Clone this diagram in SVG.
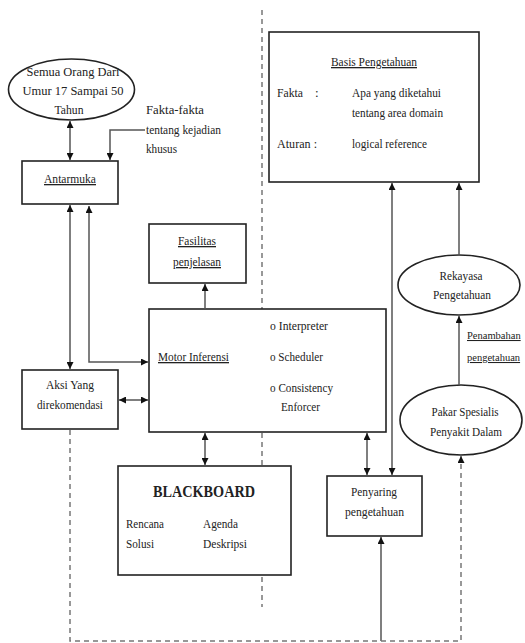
<svg xmlns="http://www.w3.org/2000/svg" width="525" height="643" viewBox="0 0 525 643">
<defs>
<marker id="ah" viewBox="0 0 10 10" refX="10" refY="5" markerWidth="7" markerHeight="7" markerUnits="userSpaceOnUse" orient="auto-start-reverse">
<path d="M0,0 L10,5 L0,10 z" fill="#111"/>
</marker>
<style>
.box{fill:#fff;stroke:#222;stroke-width:1.6}
.t{font-family:"Liberation Serif","Times New Roman",serif;font-size:13px;fill:#222}
.c{text-anchor:middle}
.u{text-decoration:underline}
.ln{fill:none;stroke:#555;stroke-width:1.5}
.both{marker-start:url(#ah);marker-end:url(#ah)}
.end{marker-end:url(#ah)}
.dash{fill:none;stroke:#777;stroke-width:1.5;stroke-dasharray:5 4}
</style>
</defs>
<rect width="525" height="643" fill="#fff"/>

<g id="divider">
<line class="dash" x1="262" y1="10" x2="262" y2="607"/>
</g>

<g id="semua">
<ellipse class="box" cx="71.5" cy="89.5" rx="63" ry="30.5"/>
<text class="t c" x="73" y="76" textLength="93" lengthAdjust="spacingAndGlyphs">Semua Orang Dari</text>
<text class="t c" x="73" y="95" textLength="101" lengthAdjust="spacingAndGlyphs">Umur 17 Sampai 50</text>
<text class="t c" x="69" y="114" textLength="29" lengthAdjust="spacingAndGlyphs">Tahun</text>
</g>

<g id="fakta">
<text class="t" x="146" y="114" textLength="58" lengthAdjust="spacingAndGlyphs">Fakta-fakta</text>
<text class="t" x="146" y="134" textLength="75" lengthAdjust="spacingAndGlyphs">tentang kejadian</text>
<text class="t" x="146" y="153" textLength="31" lengthAdjust="spacingAndGlyphs">khusus</text>
</g>

<g id="antarmuka">
<rect class="box" x="22" y="161" width="96" height="43"/>
<text class="t c u" x="70" y="183" textLength="52" lengthAdjust="spacingAndGlyphs">Antarmuka</text>
</g>

<g id="basis">
<rect class="box" x="269" y="32" width="210" height="150"/>
<text class="t c u" x="374" y="66" textLength="86" lengthAdjust="spacingAndGlyphs">Basis Pengetahuan</text>
<text class="t" x="277" y="97" textLength="26" lengthAdjust="spacingAndGlyphs">Fakta</text>
<text class="t" x="315" y="97">:</text>
<text class="t" x="352" y="97" textLength="89" lengthAdjust="spacingAndGlyphs">Apa yang diketahui</text>
<text class="t" x="352" y="117" textLength="91" lengthAdjust="spacingAndGlyphs">tentang area domain</text>
<text class="t" x="277" y="148" textLength="40" lengthAdjust="spacingAndGlyphs">Aturan :</text>
<text class="t" x="352" y="148" textLength="75" lengthAdjust="spacingAndGlyphs">logical reference</text>
</g>

<g id="fasilitas">
<rect class="box" x="149" y="224" width="97" height="59"/>
<text class="t c u" x="197" y="245" textLength="38" lengthAdjust="spacingAndGlyphs">Fasilitas</text>
<text class="t c u" x="197" y="266" textLength="48" lengthAdjust="spacingAndGlyphs">penjelasan</text>
</g>

<g id="rekayasa">
<ellipse class="box" cx="459" cy="285" rx="61" ry="30"/>
<text class="t c" x="461" y="280" textLength="43" lengthAdjust="spacingAndGlyphs">Rekayasa</text>
<text class="t c" x="462" y="299" textLength="58" lengthAdjust="spacingAndGlyphs">Pengetahuan</text>
</g>

<g id="penambahan">
<text class="t u" x="467" y="339" style="font-size:10.5px">Penambahan</text>
<text class="t u" x="467" y="361" style="font-size:10.5px">pengetahuan</text>
</g>

<g id="motor">
<rect class="box" x="149" y="309" width="237" height="123"/>
<text class="t u" x="158" y="361" textLength="71" lengthAdjust="spacingAndGlyphs">Motor Inferensi</text>
<text class="t" x="270" y="330" textLength="58" lengthAdjust="spacingAndGlyphs">o  Interpreter</text>
<text class="t" x="270" y="361" textLength="53" lengthAdjust="spacingAndGlyphs">o Scheduler</text>
<text class="t" x="270" y="392" textLength="63" lengthAdjust="spacingAndGlyphs">o Consistency</text>
<text class="t" x="281" y="411" textLength="39" lengthAdjust="spacingAndGlyphs">Enforcer</text>
</g>

<g id="aksi">
<rect class="box" x="22" y="370" width="96" height="59"/>
<text class="t c" x="70" y="389" textLength="48" lengthAdjust="spacingAndGlyphs">Aksi Yang</text>
<text class="t c" x="70" y="409" textLength="66" lengthAdjust="spacingAndGlyphs">direkomendasi</text>
</g>

<g id="pakar">
<ellipse class="box" cx="461" cy="420" rx="61" ry="35"/>
<text class="t c" x="465" y="416" textLength="67" lengthAdjust="spacingAndGlyphs">Pakar Spesialis</text>
<text class="t c" x="466" y="436" textLength="72" lengthAdjust="spacingAndGlyphs">Penyakit Dalam</text>
</g>

<g id="blackboard">
<rect class="box" x="118" y="466" width="173" height="109"/>
<text class="t c" x="204" y="497" style="font-size:16px;font-weight:bold" textLength="102" lengthAdjust="spacingAndGlyphs">BLACKBOARD</text>
<text class="t" x="126" y="528" textLength="38" lengthAdjust="spacingAndGlyphs">Rencana</text>
<text class="t" x="126" y="548" textLength="28" lengthAdjust="spacingAndGlyphs">Solusi</text>
<text class="t" x="203" y="528" textLength="35" lengthAdjust="spacingAndGlyphs">Agenda</text>
<text class="t" x="203" y="548" textLength="44" lengthAdjust="spacingAndGlyphs">Deskripsi</text>
</g>

<g id="penyaring">
<rect class="box" x="327" y="476" width="95" height="60"/>
<text class="t c" x="374" y="496" textLength="46" lengthAdjust="spacingAndGlyphs">Penyaring</text>
<text class="t c" x="374.5" y="516" textLength="59" lengthAdjust="spacingAndGlyphs">pengetahuan</text>
</g>

<g id="connectors">
<line class="ln both" x1="70" y1="121" x2="70" y2="160"/>
<path class="ln end" d="M145,130 H110 V160"/>
<line class="ln both" x1="70" y1="205" x2="70" y2="369"/>
<path class="ln both" d="M89,206 V362 H148"/>
<line class="ln end" x1="205" y1="309" x2="205" y2="284"/>
<line class="ln both" x1="119" y1="400" x2="148" y2="400"/>
<line class="ln both" x1="205" y1="433" x2="205" y2="465"/>
<line class="ln both" x1="367" y1="433" x2="367" y2="475"/>
<line class="ln both" x1="392" y1="183" x2="392" y2="475"/>
<line class="ln end" x1="459" y1="255" x2="459" y2="183"/>
<line class="ln end" x1="459" y1="385" x2="459" y2="316"/>
<line class="ln end" x1="381" y1="641" x2="381" y2="537"/>
<path class="dash end" d="M70,430 V641 H461 V456"/>
</g>
</svg>
